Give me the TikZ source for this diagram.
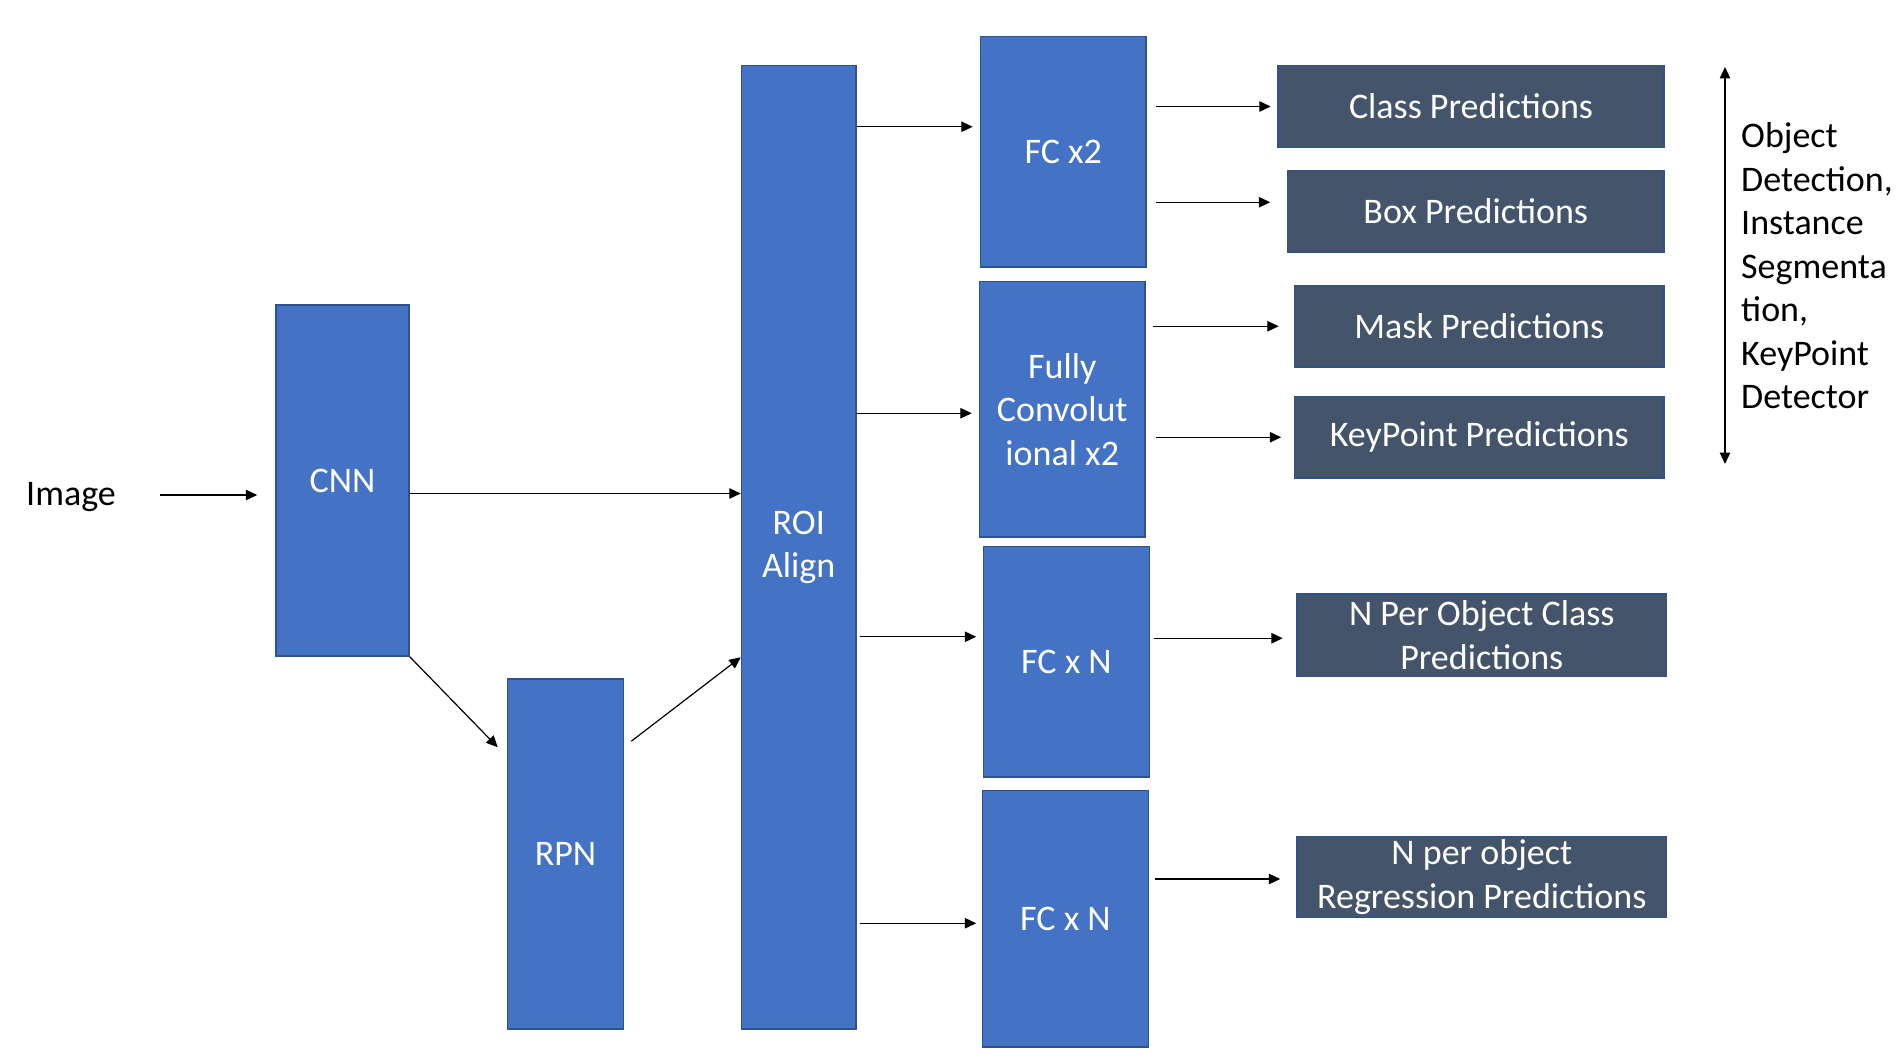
\documentclass[tikz,border=0pt]{standalone}
\usepackage{fontspec}
\setmainfont{Carlito}
\usepackage{tikz}
\usetikzlibrary{arrows.meta}
\usepackage{xcolor}
\definecolor{boxblue}{HTML}{4472C4}
\definecolor{boxedge}{HTML}{2F528F}
\definecolor{preddark}{HTML}{44546A}

\tikzset{
  layer/.style={draw=boxedge, fill=boxblue, line width=1.5pt, text=white, align=center, inner sep=0pt},
  pred/.style={draw=boxedge, fill=preddark, line width=1.5pt, text=white, align=center, inner sep=0pt},
  arr/.style={-{Triangle[length=11.5pt,width=10.5pt]}, line width=1.2pt}
}

\begin{document}
\begin{tikzpicture}[x=1pt,y=-1pt,font=\fontsize{36}{43.5}\selectfont]
\useasboundingbox (0,0) rectangle (1901,1057);

\node [inner sep=0pt] (img) at (71,497) {Image};
\node [layer, minimum width=133pt, minimum height=351pt] (cnn) at (342.5,480.5) {CNN};
\node [layer, minimum width=116pt, minimum height=350pt] (rpn) at (565.5,854) {RPN};
\node [layer, minimum width=114.5pt, minimum height=963.5pt] (roi) at (798.75,547.25) {\strut ROI\\\strut Align};

\node [layer, minimum width=165.5pt, minimum height=230.5pt] (fc2) at (1063.25,151.75) {FC x2};
\node [layer, minimum width=165.5pt, minimum height=255.5pt] (fcn) at (1062.25,409.25) {Fully\\Convolut\\ional x2};
\node [layer, minimum width=166pt, minimum height=230.5pt] (fcna) at (1066.5,661.75) {FC x N};
\node [layer, minimum width=166pt, minimum height=256.5pt] (fcnb) at (1065.5,918.75) {FC x N};

\node [pred, minimum width=386pt, minimum height=82pt] (cls) at (1471,106.5) {Class Predictions};
\node [pred, minimum width=376.5pt, minimum height=81.5pt] (box) at (1475.75,211.25) {Box Predictions};
\node [pred, minimum width=369.5pt, minimum height=81.5pt] (mask) at (1479.25,326.25) {Mask Predictions};
\node [pred, minimum width=369.5pt, minimum height=81.5pt] (kp) at (1479.25,437.25) {KeyPoint Predictions};
\node [pred, minimum width=369.5pt, minimum height=82.5pt] (npc) at (1481.75,635.25) {N Per Object Class\\Predictions};
\node [pred, minimum width=369.5pt, minimum height=81pt] (npr) at (1481.75,877) {N per object\\Regression Predictions};

\node [inner sep=0pt, align=left, anchor=west] (task) at (1741,266) {Object\\Detection,\\Instance\\Segmenta\\tion,\\KeyPoint\\Detector};
\coordinate (ttop) at (1725,67);
\coordinate (tbot) at (1725,464);

% backbone
\draw [arr] [shorten <=44pt, shorten >=18pt] ([yshift=2pt]img.east) -- ([yshift=2pt]img.east -| cnn.west);
\draw [arr] ([yshift=-13pt]cnn.east) -- ([yshift=-13pt]cnn.east -| roi.west);
\draw [arr] (cnn.south east) -- ([xshift=-9pt,yshift=-69pt]rpn.north west);
\draw [arr] ([xshift=7pt,yshift=-63pt]rpn.north east) -- ([yshift=-110pt]roi.west);

% heads
\draw [arr] [shorten >=7pt] ([yshift=25pt]fc2.west -| roi.east) -- ([yshift=25pt]fc2.west);
\draw [arr] [shorten >=7pt] ([yshift=-4pt]fcn.west -| roi.east) -- ([yshift=-4pt]fcn.west);
\draw [arr] [shorten <=3pt, shorten >=6.5pt] ([yshift=25pt]fcna.west -| roi.east) -- ([yshift=25pt]fcna.west);
\draw [arr] [shorten <=3pt, shorten >=5.5pt] ([yshift=-4.5pt]fcnb.west -| roi.east) -- ([yshift=-4.5pt]fcnb.west);

% outputs
\draw [arr] [shorten <=9pt, shorten >=6.5pt] (cls.west -| fc2.east) -- (cls.west);
\draw [arr] [shorten <=9pt, shorten >=16.5pt] ([yshift=9pt]box.west -| fc2.east) -- ([yshift=9pt]box.west);
\draw [arr] [shorten <=7.5pt, shorten >=15pt] (mask.west -| fcn.east) -- (mask.west);
\draw [arr] [shorten <=10pt, shorten >=12.5pt] (kp.west -| fcn.east) -- (kp.west);
\draw [arr] [shorten <=3.5pt, shorten >=13.5pt] ([yshift=-3pt]npc.west -| fcna.east) -- ([yshift=-3pt]npc.west);
\draw [arr] [shorten <=6pt, shorten >=16pt] ([yshift=-2pt]npr.west -| fcnb.east) -- ([yshift=-2pt]npr.west);

\draw [{Triangle[length=11.5pt,width=10.5pt]}-{Triangle[length=11.5pt,width=10.5pt]}, line width=1.2pt] (ttop) -- (tbot);

\end{tikzpicture}
\end{document}
